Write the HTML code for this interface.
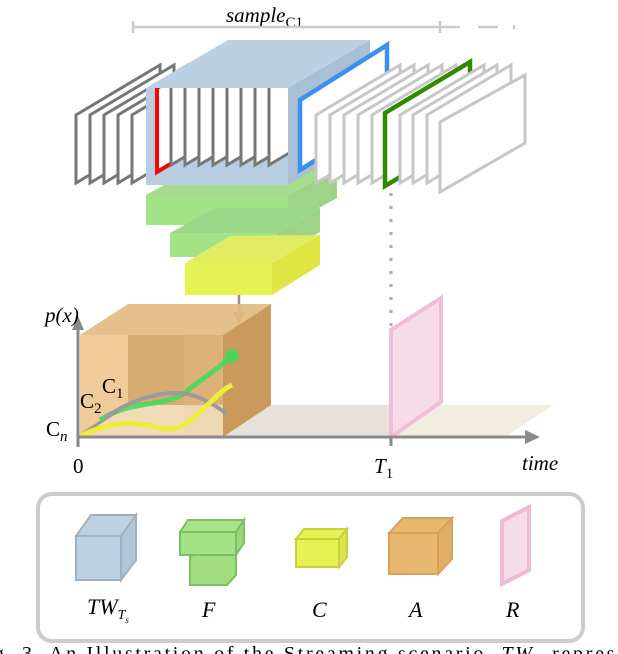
<!DOCTYPE html>
<html><head><meta charset="utf-8"><style>
html,body{margin:0;padding:0;background:#fff;}
svg{display:block;}
text{font-family:"Liberation Serif",serif;}
</style></head><body>
<svg width="618" height="654" viewBox="0 0 618 654" xmlns="http://www.w3.org/2000/svg">
<defs>
<clipPath id="fc"><rect x="146" y="88" width="142" height="97"/></clipPath>
</defs>
<text x="226" y="22" font-size="21" font-style="italic">sample<tspan font-size="15" font-style="normal" dy="5">C1</tspan></text>
<g stroke="#ccc" stroke-width="2.5" fill="none">
<line x1="133" y1="27" x2="440" y2="27"/><line x1="133" y1="21" x2="133" y2="33"/><line x1="440" y1="21" x2="440" y2="33"/>
<line x1="440" y1="27" x2="460" y2="27"/><line x1="478" y1="27" x2="498" y2="27"/><line x1="514" y1="25" x2="514" y2="29"/>
</g>
<polygon points="146,195 195,168 337,168 288,195" fill="#a5dd8c"/>
<rect x="146" y="195" width="142" height="30" fill="#a2e388"/>
<polygon points="288,195 337,168 337,198 288,225" fill="#9dd487"/>
<polygon points="170,233 215,208 320,208 277,233" fill="#9ad98a"/>
<rect x="170" y="233" width="107" height="24" fill="#a2e388"/>
<polygon points="277,233 320,208 320,232 277,257" fill="#9dd487"/>
<polygon points="185,263 230,236 320,235 272,263" fill="#e2ec62"/>
<rect x="185" y="263" width="87" height="32" fill="#e4f254"/>
<polygon points="272,263 320,235 320,265 272,295" fill="#dfe644"/>
<g stroke="#777" stroke-width="3" fill="#fff">
<polygon points="76,183 76,115 160,65 160,133"/>
<polygon points="90,183 90,115 174,65 174,133"/>
<polygon points="104,183 104,115 188,65 188,133"/>
<polygon points="118,183 118,115 202,65 202,133"/>
<polygon points="132,183 132,115 216,65 216,133"/>
</g>
<polygon points="146,88 228,40 370,40 288,88" fill="#bbd0e2"/>
<rect x="146" y="88" width="142" height="97" fill="#b8cde0"/>
<polygon points="288,88 370,40 370,137 288,185" fill="#a9c0d4"/>
<g clip-path="url(#fc)" fill="#fff">
<polygon points="157,172 157,88 241,38 241,122" stroke="#f00" stroke-width="4"/>
<g stroke="#777" stroke-width="3">
<polygon points="171,165 171,87 255,37 255,115"/>
<polygon points="185,165 185,87 269,37 269,115"/>
<polygon points="199,165 199,87 283,37 283,115"/>
<polygon points="213,165 213,87 297,37 297,115"/>
<polygon points="227,165 227,87 311,37 311,115"/>
<polygon points="241,165 241,87 325,37 325,115"/>
<polygon points="255,165 255,87 339,37 339,115"/>
<polygon points="269,165 269,87 353,37 353,115"/>
</g>
</g>
<polygon points="300,170 300,100 387,45 387,115" fill="#fff" stroke="#3b8ff0" stroke-width="4.5"/>
<g stroke="#c6c6c6" stroke-width="3" fill="#fff">
<polygon points="316,183 316,115 400,65 400,133"/>
<polygon points="330,183 330,115 414,65 414,133"/>
<polygon points="344,183 344,115 428,65 428,133"/>
<polygon points="358,183 358,115 442,65 442,133"/>
<polygon points="372,183 372,115 456,65 456,133"/>
</g>
<polygon points="385,186 385,113 470,62 470,135" fill="#fff" stroke="#2e8b00" stroke-width="4.5"/>
<g stroke="#c6c6c6" stroke-width="3" fill="#fff">
<polygon points="400,183 400,115 484,65 484,133"/>
<polygon points="413,183 413,115 497,65 497,133"/>
<polygon points="427,183 427,115 511,65 511,133"/>
<polygon points="440,192 440,122 525,75 525,143"/>
</g>
<line x1="391" y1="193" x2="391" y2="330" stroke="#aaa" stroke-width="3" stroke-dasharray="3,10"/>
<line x1="239" y1="295" x2="239" y2="314" stroke="#9a8f7c" stroke-width="2.5"/>
<polygon points="233,312 245,312 239,323" fill="#9a8f7c"/>
<polygon points="223,437 271,405 553,405 505,437" fill="#e6e1da"/>
<polygon points="391,437 439,405 553,405 505,437" fill="#f3ede0"/>
<polygon points="80,335 128,304 271,304 223,335" fill="#e0b97f" opacity="0.9"/>
<rect x="80" y="335" width="143" height="102" fill="#eecb98"/>
<rect x="128" y="335" width="95" height="70" fill="#d5ab72"/>
<rect x="184" y="335" width="39" height="102" fill="#ddb47a" opacity="0.8"/>
<polygon points="80,437 128,405 223,405 223,437" fill="#f3dfc2" opacity="0.8"/>
<polygon points="223,335 271,304 271,405 223,437" fill="#c99a5c"/>
<path d="M79,436 L127,405" stroke="#999" stroke-width="3"/>
<path d="M100,420 C130,400 160,408 185,393 C205,375 220,370 232,353" stroke="#3ddc5a" stroke-width="5" fill="none" opacity="0.85"/>
<circle cx="232" cy="356" r="7" fill="#3ddc5a" opacity="0.85"/>
<path d="M105,418 C130,400 170,385 200,398 C215,405 222,410 226,414" stroke="#9b9b9b" stroke-width="4" fill="none"/>
<path d="M80,436 C110,422 130,420 160,428 C190,436 210,395 232,385" stroke="#eded3a" stroke-width="5" fill="none"/>
<polygon points="391,437 391,330 441,298 441,402" fill="#f5dce8" stroke="#f0bcd8" stroke-width="4"/>
<g stroke="#8a8a8a" stroke-width="3">
<line x1="78" y1="447" x2="78" y2="328"/>
<line x1="78" y1="437" x2="528" y2="437"/>
<line x1="391" y1="437" x2="391" y2="446"/>
</g>
<polygon points="72,330 84,330 78,316" fill="#8a8a8a"/>
<polygon points="525,430 525,444 540,437" fill="#8a8a8a"/>
<text x="45" y="322" font-size="21" font-style="italic">p(x)</text>
<text x="102" y="393" font-size="21">C<tspan font-size="15" dy="5">1</tspan></text>
<text x="80" y="408" font-size="21">C<tspan font-size="15" dy="5">2</tspan></text>
<text x="46" y="436" font-size="21">C<tspan font-size="15" dy="5" font-style="italic">n</tspan></text>
<text x="73" y="473" font-size="21">0</text>
<text x="374" y="473" font-size="21" font-style="italic">T<tspan font-size="15" dy="5" font-style="normal">1</tspan></text>
<text x="522" y="470" font-size="21" font-style="italic">time</text>
<rect x="38" y="494" width="545" height="147" rx="14" fill="#fff" stroke="#ccc" stroke-width="4"/>
<polygon points="76,536 91,515 136,515 121,536" fill="#bcd1e2" stroke="#9fb0bf" stroke-width="2"/>
<rect x="76" y="536" width="45" height="44" fill="#bcd1e2" stroke="#9fb0bf" stroke-width="2"/>
<polygon points="121,536 136,515 136,560 121,580" fill="#b0c6d8" stroke="#9fb0bf" stroke-width="2"/>
<polygon points="190,556 190,585 227,585 236,575 236,548" fill="#a0dc80" stroke="#7cc063" stroke-width="2"/>
<polygon points="180,532 188,520 244,520 236,532" fill="#a6e487" stroke="#7cc063" stroke-width="2"/>
<rect x="180" y="532" width="56" height="23" fill="#a2e388" stroke="#7cc063" stroke-width="2"/>
<polygon points="236,532 244,520 244,543 236,555" fill="#98d57f" stroke="#7cc063" stroke-width="2"/>
<polygon points="296,539 304,529 347,529 339,539" fill="#e4f254" stroke="#c8d03a" stroke-width="2"/>
<rect x="296" y="539" width="43" height="28" fill="#e4f254" stroke="#c8d03a" stroke-width="2"/>
<polygon points="339,539 347,529 347,557 339,567" fill="#dbe64a" stroke="#c8d03a" stroke-width="2"/>
<polygon points="389,533 403,518 452,518 438,533" fill="#e8b870" stroke="#d9a05a" stroke-width="2"/>
<rect x="389" y="533" width="49" height="41" fill="#e8b870" stroke="#d9a05a" stroke-width="2"/>
<polygon points="438,533 452,518 452,559 438,574" fill="#e0ad66" stroke="#d9a05a" stroke-width="2"/>
<polygon points="502,584 502,521 529,507 529,570" fill="#f5dde8" stroke="#eebad6" stroke-width="4"/>
<text x="87" y="614" font-size="22" font-style="italic">TW<tspan font-size="14" dy="5">T</tspan><tspan font-size="9" dy="4">s</tspan></text>
<text x="202" y="617" font-size="22" font-style="italic">F</text>
<text x="312" y="617" font-size="22" font-style="italic">C</text>
<text x="409" y="617" font-size="22" font-style="italic">A</text>
<text x="506" y="617" font-size="22" font-style="italic">R</text>
<text x="-6" y="660" font-size="20" textLength="632" lengthAdjust="spacing">g. 3.    An Illustration of the Streaming scenario. <tspan font-style="italic">TW<tspan font-size="13" dy="4">T</tspan></tspan><tspan dy="-4"> represe</tspan></text>
</svg>
</body></html>
